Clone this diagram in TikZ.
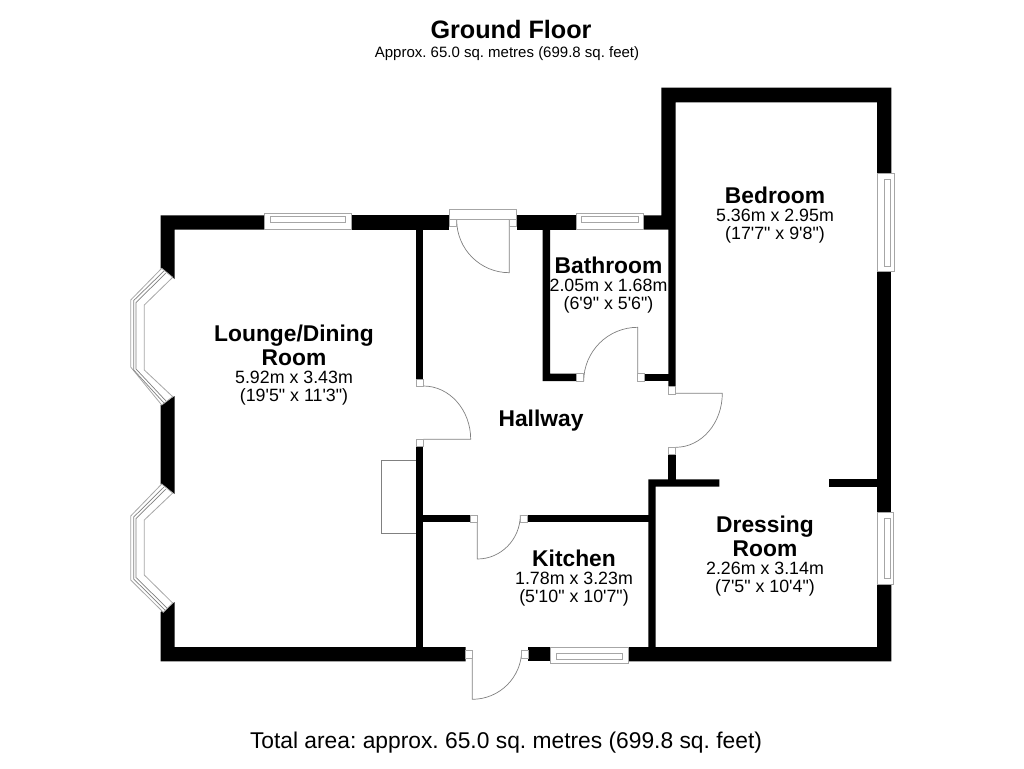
\documentclass[tikz,border=0pt]{standalone}
\usepackage{fontspec}
\setmainfont{Liberation Sans}[Ligatures=TeXOff]
\tikzset{
  wall/.style={fill=black},
  frame/.style={draw=black!35, line width=0.8pt, fill=white},
  leaf/.style={draw=black!50, line width=0.7pt},
  roomlabel/.style={align=center, inner sep=0pt, font=\fontsize{17.8}{18}\selectfont},
}
\newcommand{\roomname}[1]{{\fontsize{22.8}{18}\selectfont\bfseries #1}}
\frenchspacing

\begin{document}
\begin{tikzpicture}[x=1pt, y=-1pt]
\useasboundingbox (0,0) rectangle (1024,768);

% heading
\node (title) at (511,29) {\fontsize{25.2}{26}\selectfont\bfseries Ground Floor};
\node (subtitle) at (507,53.5) {\fontsize{15}{16}\selectfont Approx. 65.0 sq. metres (699.8 sq. feet)};
\node (total) at (506,742.5) {\fontsize{22.8}{24}\selectfont Total area: approx. 65.0 sq. metres (699.8 sq. feet)};

% outer walls
\fill[wall] (264.3,215.3) -- (160.7,215.3) -- (160.7,268.3) -- (174.7,279) -- (174.7,229.7) -- (264.3,229.7) -- cycle;
\fill[wall] (160.7,405) -- (160.7,484) -- (174.7,494) -- (174.7,396) -- cycle;
\fill[wall] (160.7,612) -- (160.7,661.3) -- (465.7,661.3) -- (465.7,647) -- (174.7,647) -- (174.7,602) -- cycle;
\fill[wall] (351,215.3) rectangle (449,229.7);
\fill[wall] (516.7,215.3) rectangle (576,229.7);
\fill[wall] (643.3,215.3) -- (661.3,215.3) -- (661.3,87.7) -- (891.3,87.7) -- (891.3,173.3) -- (877,173.3)
  -- (877,102.3) -- (675.7,102.3) -- (675.7,386.7) -- (668.3,386.7) -- (668.3,229.7) -- (643.3,229.7) -- cycle;
\fill[wall] (877,271.7) rectangle (891.3,512.3);
\fill[wall] (877,584) -- (891.3,584) -- (891.3,661.3) -- (628,661.3) -- (628,647) -- (877,647) -- cycle;
\fill[wall] (528.3,647) rectangle (550.7,661.3);

% inner walls
\fill[wall] (416,229) rectangle (423.4,379);
\fill[wall] (416,446.7) rectangle (423.4,650);
\fill[wall] (423,515) rectangle (470,522.3);
\fill[wall] (527.7,515) rectangle (650,522.3);
\fill[wall] (542.7,229) -- (550,229) -- (550,373.7) -- (576.7,373.7) -- (576.7,381) -- (542.7,381) -- cycle;
\fill[wall] (644.3,373.7) rectangle (669,381);
\fill[wall] (668.3,454) rectangle (675.7,480);
\fill[wall] (648.3,479.3) -- (719.3,479.3) -- (719.3,486.7) -- (655.7,486.7) -- (655.7,648) -- (648.3,648) -- cycle;
\fill[wall] (829.3,479.3) rectangle (878,486.7);

% windows
\draw[frame] (264.3,213.3) rectangle (351,229.3);
\draw[frame] (270,216.7) rectangle (345,222.7);
\draw[frame] (576,213.3) rectangle (643.3,229.3);
\draw[frame] (581.7,216.7) rectangle (638.3,222.7);
\draw[frame] (550.7,647.3) rectangle (628,663.3);
\draw[frame] (556.5,653.7) rectangle (622.5,659.7);
\draw[frame] (877,173.3) rectangle (894,271.7);
\draw[frame] (884,179) rectangle (890,266);
\draw[frame] (877,512.3) rectangle (893.3,584);
\draw[frame] (884,518) rectangle (890,578);

% bay windows
\draw[frame] (161.7,268.3) -- (130.7,300) -- (130.7,367) -- (161.7,405) -- (172.7,396.7) -- (144.3,370) -- (144.3,305) -- (172.7,277.3) -- cycle;
\draw[leaf] (164,271) -- (133.7,300.5) -- (133.7,370) -- (164,403);
\draw[leaf] (166,273) -- (136,302.5) -- (136,369) -- (166,401);
\draw[frame] (161.7,484) -- (130.7,516) -- (130.7,580) -- (163.3,612.3) -- (172.7,603) -- (144.3,575) -- (144.3,520) -- (172.7,493) -- cycle;
\draw[leaf] (164,487) -- (133.7,517) -- (133.7,579) -- (165,610);
\draw[leaf] (166,489) -- (136,518.5) -- (136,577.5) -- (167,608);

% door frames
\draw[frame] (449,209.3) rectangle (516.7,219.3);

% door leaves
\draw[leaf] (509.3,219.3) -- (509.3,272.7) arc[start angle=-90, end angle=-180, radius=52.6pt];
\draw[leaf] (423.4,439.3) -- (470.7,439.3) arc[start angle=0, end angle=90, x radius=47.3pt, y radius=53.3pt];
\draw[leaf] (637.7,373.7) -- (637.7,327.3) arc[start angle=90, end angle=180, radius=54pt];
\draw[leaf] (675.7,393.3) -- (722.3,393.3) arc[start angle=0, end angle=-90, x radius=46.6pt, y radius=54pt];
\draw[leaf] (477.3,515) -- (477.3,559) arc[start angle=-90, end angle=0, x radius=43pt, y radius=44pt];
\draw[leaf] (472.3,650) -- (472.3,699.3) arc[start angle=-90, end angle=0, x radius=49.4pt, y radius=49.3pt];

% door jambs
\draw[frame] (449,219.3) rectangle (456.7,226.7);
\draw[frame] (509.3,219.3) rectangle (516.7,226.7);
\draw[frame] (416,379) rectangle (423.4,386);
\draw[frame] (416,439.3) rectangle (423.4,446.7);
\draw[frame] (576.7,373.7) rectangle (583.7,381);
\draw[frame] (637.7,373.7) rectangle (644.3,381);
\draw[frame] (668.3,386.7) rectangle (675.7,394);
\draw[frame] (668.3,447.3) rectangle (675.7,454);
\draw[frame] (470,515) rectangle (477.3,522.3);
\draw[frame] (520,515) rectangle (527.7,522.3);
\draw[frame] (465.7,650) rectangle (472.3,658.3);
\draw[frame] (521.7,650) rectangle (528.3,658.3);

% chimney breast
\draw[leaf] (416,460) -- (381.3,460) -- (381.3,533.3) -- (416,533.3);

% rooms
\node[roomlabel] (lounge) at (294,365) {\roomname{Lounge/Dining}\\[2.5pt]\roomname{Room}\\5.92m x 3.43m\\(19'5" x 11'3")};
\node[roomlabel] (bedroom) at (775,215) {\roomname{Bedroom}\\5.36m x 2.95m\\(17'7" x 9'8")};
\node[roomlabel] (bathroom) at (608.5,285) {\roomname{Bathroom}\\2.05m x 1.68m\\(6'9" x 5'6")};
\node[roomlabel] (hallway) at (541,420.5) {\roomname{Hallway}};
\node[roomlabel] (kitchen) at (574,578) {\roomname{Kitchen}\\1.78m x 3.23m\\(5'10" x 10'7")};
\node[roomlabel] (dressing) at (765,556.5) {\roomname{Dressing}\\[2.5pt]\roomname{Room}\\2.26m x 3.14m\\(7'5" x 10'4")};
\end{tikzpicture}
\end{document}
